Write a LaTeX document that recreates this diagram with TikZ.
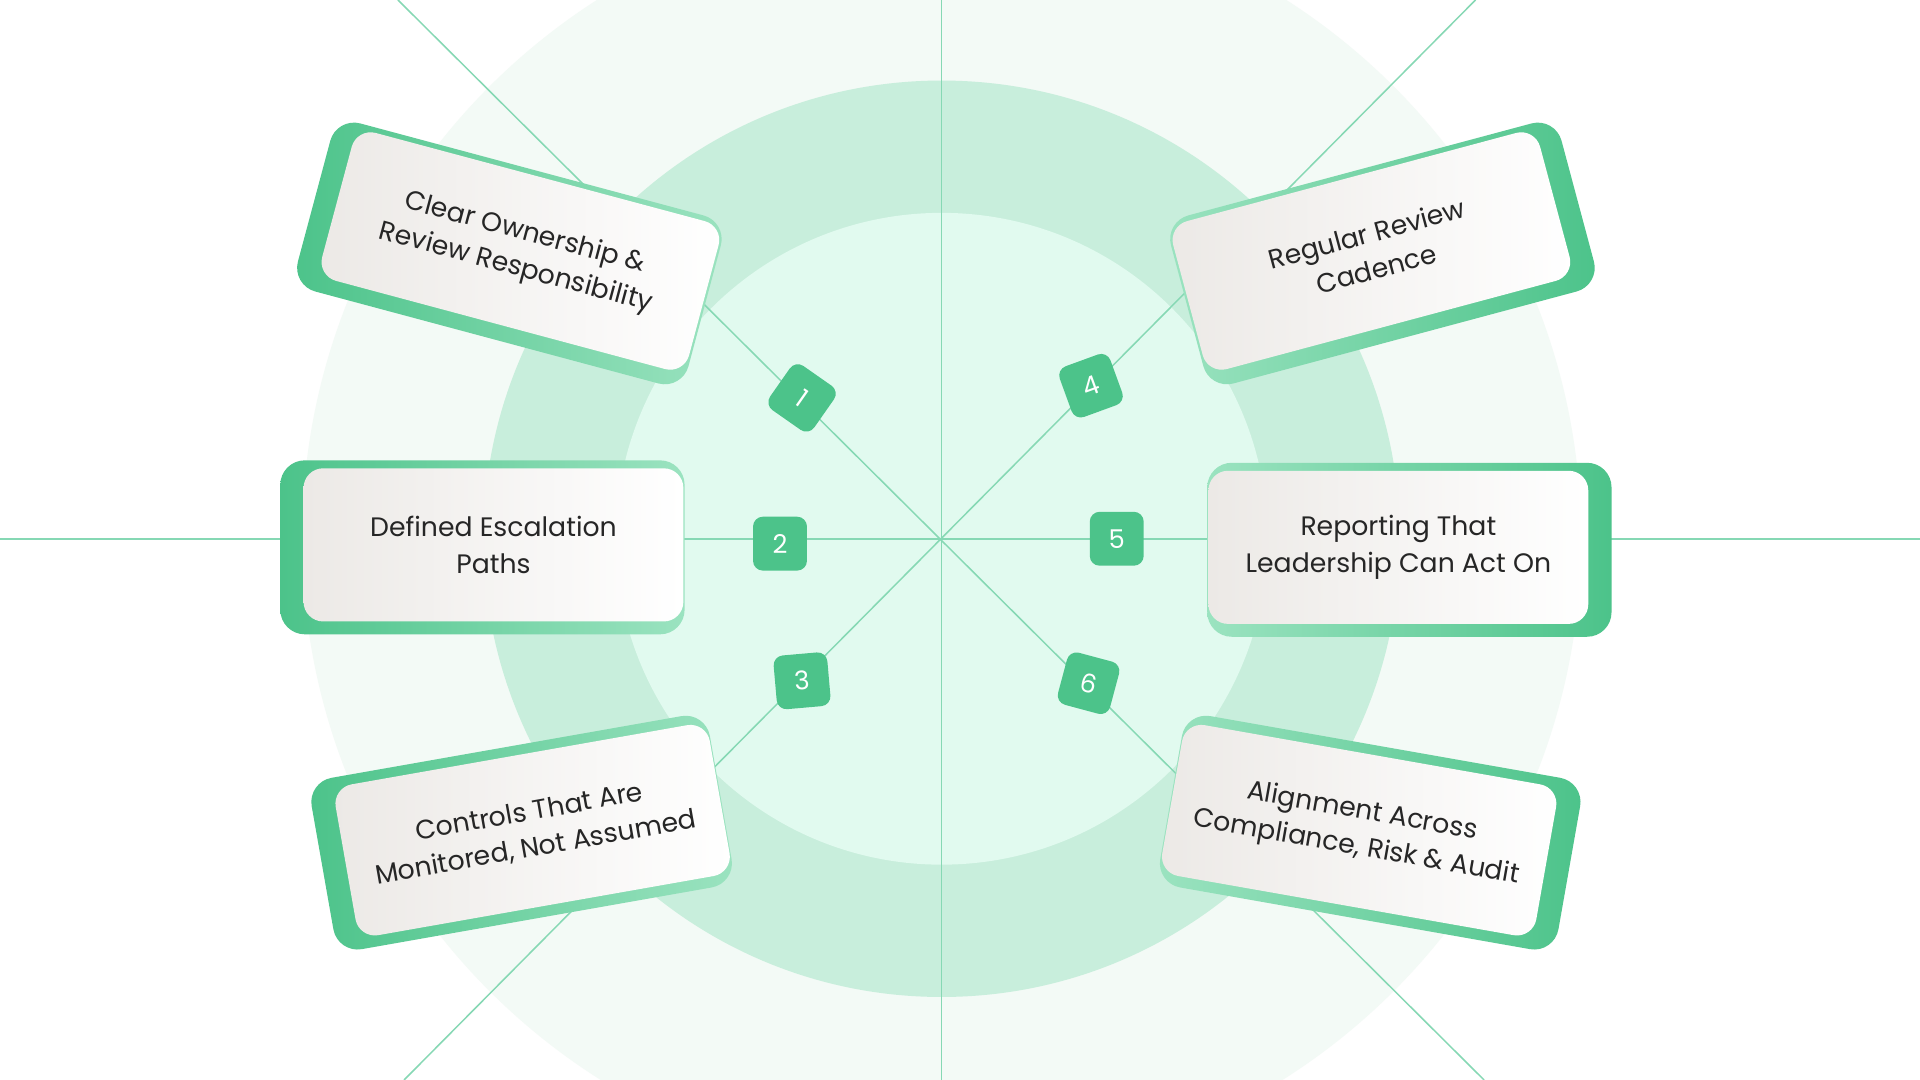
\documentclass[tikz,border=0pt]{standalone}
\usepackage{fontspec}
\setmainfont{Poppins}
\usetikzlibrary{positioning}
\definecolor{ringout}{HTML}{F3FAF6}
\definecolor{ringmid}{HTML}{C8EEDC}
\definecolor{ringin}{HTML}{E1FAEF}
\definecolor{guide}{HTML}{86D8B4}
\definecolor{leaf}{HTML}{4CC38A}
\definecolor{leaflight}{HTML}{9BE3C0}
\definecolor{cardgrey}{HTML}{ECE9E6}
\tikzset{
  card/.style={rounded corners=0.16cm, minimum width=3.1cm, minimum height=1.25cm, align=center,
    left color=cardgrey, right color=white, font=\fontsize{6.2}{8.4}\selectfont, text=black!85},
  backleft/.style={rounded corners=0.2cm, minimum width=3.3cm, minimum height=1.42cm,
    left color=leaf, right color=leaflight},
  backright/.style={rounded corners=0.2cm, minimum width=3.3cm, minimum height=1.42cm,
    left color=leaflight, right color=leaf},
  badge/.style={fill=leaf, rounded corners=0.08cm, minimum size=0.44cm, inner sep=0pt,
    text=white, font=\fontsize{6}{7}\selectfont},
  guideline/.style={draw=guide, line width=0.35pt}
}
\begin{document}
\begin{tikzpicture}[x=0.01cm,y=0.01cm]
		\useasboundingbox (0,0) rectangle (1568,882);
		\fill[white] (0,0) rectangle (1568,882);
		\coordinate (c) at (769,442);
		% rings
		\fill[ringout] (c) circle (5.22cm);
		\fill[ringmid] (c) circle (3.74cm);
		\fill[ringin] (c) circle (2.66cm);
		% guides
		\coordinate (top) at (769,882);
		\coordinate (bot) at (769,0);
		\coordinate (lft) at (0,442);
		\coordinate (rgt) at (1568,442);
		\coordinate (tl) at (325,882);
		\coordinate (tr) at (1205,882);
		\coordinate (bl) at (330,0);
		\coordinate (br) at (1212,0);
		\draw[guideline] (top) -- (bot);
		\draw[guideline] (lft) -- (rgt);
		\draw[guideline] (tl) -- (br);
		\draw[guideline] (tr) -- (bl);
		% cards
		\foreach \nm/\x/\y/\r/\dx/\bk/\txt in {
			own/425/677/-15/-9/backleft/{Clear Ownership \&\\Review Responsibility},
			esc/403/437/0/-9/backleft/{Defined Escalation\\Paths},
			ctl/435/204/10/-9/backleft/{Controls That Are\\Monitored, Not Assumed},
			rev/1120/677/15/9/backright/{Regular Review\\Cadence},
			rep/1142/435/0/9/backright/{Reporting That\\Leadership Can Act On},
			aln/1110/204/-10/9/backright/{Alignment Across\\Compliance, Risk \& Audit}} {
			\node[\bk, rotate=\r] (\nm-back) at (\x+\dx,\y-2) {};
			\node[card, rotate=\r] (\nm) at (\x,\y) {\txt};
		}
		% badges
		\node[badge, rotate=-35] (b1) at (655,557) {1};
		\node[badge] (b2) at (637,438) {2};
		\node[badge, rotate=5] (b3) at (655,326) {3};
		\node[badge, rotate=20] (b4) at (891,567) {4};
		\node[badge] (b5) at (912,442) {5};
		\node[badge, rotate=-15] (b6) at (889,324) {6};
	\end{tikzpicture}
\end{document}
